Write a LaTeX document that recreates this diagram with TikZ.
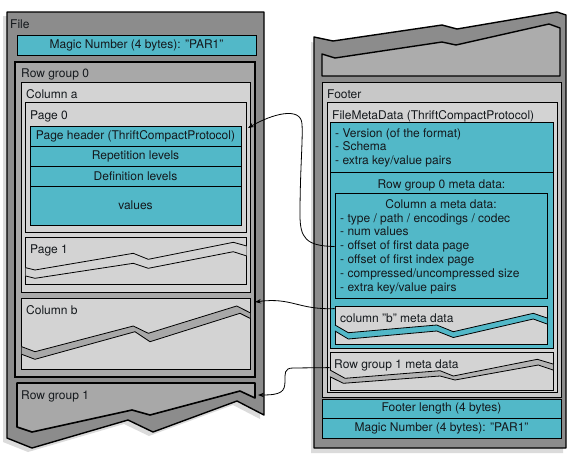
\documentclass[tikz,border=0pt]{standalone}
\usepackage{fontspec}
\setmainfont{TeX Gyre Heros}
\usepackage{tikz}
\usetikzlibrary{arrows.meta, calc}
\definecolor{tealfill}{RGB}{82,184,200}
\definecolor{filegray}{RGB}{140,140,140}
\definecolor{rowgray}{RGB}{168,168,168}
\definecolor{topgray}{RGB}{172,172,172}
\definecolor{lightgray}{RGB}{211,211,211}
\definecolor{footgray}{RGB}{200,200,200}
\definecolor{inkcol}{RGB}{20,24,28}

\begin{document}
\begin{tikzpicture}[
  x=1pt, y=-1pt,
  font=\fontsize{12pt}{14pt}\selectfont, text=inkcol,
  box/.style={draw, line width=0.8pt, inner sep=0pt, fill=lightgray},
  tealbox/.style={box, fill=tealfill},
  groupbox/.style={draw, line width=1.6pt, inner sep=0pt, fill=rowgray},
  outline/.style={draw, line width=1.4pt, line join=round},
  shade/.style={fill=black!14},
  lbl/.style={anchor=base west, inner sep=0pt},
  midlbl/.style={anchor=base, inner sep=0pt},
  tear/.style={line width=0.8pt, line join=round},
  link/.style={-{Stealth[length=6pt, width=4.5pt]}, line width=0.8pt}
]
\useasboundingbox (0,0) rectangle (582,456);

% ---------- Left file ----------
\fill[shade, shift={(-4,4)}] (7,12) -- (264,12) -- (264,415) -- (237,401) -- (153,432) -- (128,420) -- (32,448) -- (7,438) -- cycle;
\draw[outline, fill=filegray] (7,12) -- (264,12) -- (264,415) -- (237,401) -- (153,432) -- (128,420) -- (32,448) -- (7,438) -- cycle;
\node[lbl] (fileL) at (10,28) {File};

\node[tealbox, minimum width=239pt, minimum height=20pt] (magicL) at (136.5,45) {Magic Number (4 bytes): "PAR1"};

% Row group 0
\node[groupbox, minimum width=240pt, minimum height=315pt] (rg0) at (135,219.5) {};
\node[lbl] (rg0lbl) at (21,77) {Row group 0};

% Column a
\node[box, minimum width=229pt, minimum height=210pt] (cola) at (135.5,187) {};
\node[lbl] (colalbl) at (26,98) {Column a};

% Page 0
\node[box, minimum width=221pt, minimum height=130pt] (page0) at (135.5,167) {};
\node[lbl] (page0lbl) at (30,119) {Page 0};
\node[tealbox, minimum width=211pt, minimum height=20pt] (pghead) at (135.5,136) {Page header (ThriftCompactProtocol)};
\node[tealbox, minimum width=211pt, minimum height=20pt] (replev) at (135.5,156) {Repetition levels};
\node[tealbox, minimum width=211pt, minimum height=20pt] (deflev) at (135.5,176) {Definition levels};
\node[tealbox, minimum width=211pt, minimum height=39pt] (values) at (135.5,205.5) {values};

% Page 1 (torn)
\node[box, minimum width=221pt, minimum height=47pt] (page1) at (135.5,260.5) {};
\node[lbl] (page1lbl) at (30,253) {Page 1};
\fill[lightgray] (25.7,267.7) -- (35,270) -- (133.3,253.3) -- (148.3,259.3) -- (233.3,242.3) -- (246.7,246)
  -- (246.7,256) -- (233.3,251.7) -- (148.3,268.3) -- (133.3,263.3) -- (35,278.3) -- (25.7,276) -- cycle;
\draw[tear] (25.7,267.7) -- (35,270) -- (133.3,253.3) -- (148.3,259.3) -- (233.3,242.3) -- (246.7,246);
\draw[tear] (25.7,276) -- (35,278.3) -- (133.3,263.3) -- (148.3,268.3) -- (233.3,251.7) -- (246.7,256);

% Column b (torn)
\node[box, minimum width=229pt, minimum height=71pt] (colb) at (135.5,333.5) {};
\node[lbl] (colblbl) at (26,314) {Column b};
\fill[rowgray] (21.7,346.7) -- (35,351.7) -- (133.3,326) -- (148.3,333.3) -- (236.7,306) -- (250,312.7)
  -- (250,318.3) -- (240,313.3) -- (150,341.7) -- (135,331.7) -- (35,359.3) -- (21.7,354.3) -- cycle;
\draw[tear] (21.7,346.7) -- (35,351.7) -- (133.3,326) -- (148.3,333.3) -- (236.7,306) -- (250,312.7);
\draw[tear] (21.7,354.3) -- (35,359.3) -- (135,331.7) -- (150,341.7) -- (240,313.3) -- (250,318.3);

% Row group 1 (torn)
\draw[line width=1.6pt, line join=round, fill=rowgray] (17,383) -- (255,383) -- (255,398) -- (240,391) -- (150,415) -- (132,410) -- (32,432) -- (17,427) -- cycle;
\node[lbl] (rg1lbl) at (21,399) {Row group 1};

% ---------- Right file ----------
\fill[shade, shift={(-3,5)}] (314,37) -- (333,41) -- (442,25) -- (457,29) -- (557,12) -- (566,15) -- (566,448) -- (314,448) -- cycle;
\draw[outline, fill=filegray] (314,37) -- (333,41) -- (442,25) -- (457,29) -- (557,12) -- (566,15) -- (566,448) -- (314,448) -- cycle;
\draw[line width=1.4pt, line join=round, fill=topgray] (322,54) -- (335,58) -- (442,42) -- (456,45) -- (549,24) -- (560,28) -- (560,76) -- (322,76) -- cycle;

% Footer
\node[box, fill=footgray, minimum width=239pt, minimum height=315pt] (footer) at (441.5,239.5) {};
\node[lbl] (footerlbl) at (327,98) {Footer};
\node[box, minimum width=230pt, minimum height=290pt] (fmd) at (442,247) {};
\node[lbl] (fmdlbl) at (332,119) {FileMetaData (ThriftCompactProtocol)};

\node[tealbox, minimum width=223pt, minimum height=50pt] (fmdtop) at (441.5,147) {};
\node[lbl] (version) at (335,137) {- Version (of the format)};
\node[lbl] (schema) at (335,150.7) {- Schema};
\node[lbl] (extra) at (335,164.5) {- extra key/value pairs};

% Row group 0 meta data
\node[tealbox, minimum width=223pt, minimum height=176pt] (rg0meta) at (441.5,260) {};
\node[midlbl] (rg0metalbl) at (441.5,188) {Row group 0 meta data:};
\node[tealbox, minimum width=212pt, minimum height=105pt] (colameta) at (441,245.5) {};
\node[midlbl] (colametalbl) at (441,208) {Column a meta data:};
\node[lbl] (itype) at (340,222) {- type / path / encodings / codec};
\node[lbl] (inum) at (340,235.8) {- num values};
\node[lbl] (idata) at (340,249.6) {- offset of first data page};
\node[lbl] (iindex) at (340,263.4) {- offset of first index page};
\node[lbl] (isize) at (340,277.2) {- compressed/uncompressed size};
\node[lbl] (iextra) at (340,291) {- extra key/value pairs};

% column "b" meta data (torn)
\node[box, minimum width=212pt, minimum height=38pt] (colbmeta) at (441,325) {};
\node[lbl] (colbmetalbl) at (340,322) {column "b" meta data};
\fill[tealfill] (335,325) -- (348.3,332.7) -- (436.7,325) -- (453.3,331.7) -- (533.3,313.3) -- (547,318)
  -- (547,324) -- (533.3,319) -- (453.3,337.5) -- (436.7,331) -- (348.3,339) -- (335,331) -- cycle;
\draw[tear] (335,325) -- (348.3,332.7) -- (436.7,325) -- (453.3,331.7) -- (533.3,313.3) -- (547,318);
\draw[tear] (335,331) -- (348.3,339) -- (436.7,331) -- (453.3,337.5) -- (533.3,319) -- (547,324);

% Row group 1 meta data (torn)
\node[box, minimum width=223pt, minimum height=38pt] (rg1meta) at (441.5,371) {};
\node[lbl] (rg1metalbl) at (334,368) {Row group 1 meta data};
\fill[lightgray!85!black] (330,370) -- (345,378.3) -- (440,370.7) -- (453.3,376) -- (537.3,359.3) -- (553,364)
  -- (553,370) -- (538.3,365) -- (455,380) -- (440,376) -- (343.3,383.3) -- (330,376.7) -- cycle;
\draw[tear] (330,370) -- (345,378.3) -- (440,370.7) -- (453.3,376) -- (537.3,359.3) -- (553,364);
\draw[tear] (330,376.7) -- (343.3,383.3) -- (440,376) -- (455,380) -- (538.3,365) -- (553,370);

\node[tealbox, minimum width=239pt, minimum height=19pt] (footlen) at (441.5,408.5) {Footer length (4 bytes)};
\node[tealbox, minimum width=239pt, minimum height=20pt] (magicR) at (441.5,428) {Magic Number (4 bytes): "PAR1"};

% ---------- Links ----------
\coordinate (page0in) at (248,128);
\coordinate (colbin) at (255,302);
\coordinate (rg1in) at (258,395);

\draw[link] (colameta.west |- idata) .. controls (306,246) and (300,238) .. (300,215)
  .. controls (300,170) and (303,140) .. (302,124)
  .. controls (301,106) and (272,114) .. (page0in);
\draw[link] ($(colbmeta.north west)+(0,3)$) .. controls (298,310) and (292,297) .. (colbin);
\draw[link] ($(rg1meta.north west)+(0,16)$) -- (293,368) .. controls (284,368) and (285,374) .. (285,381)
  .. controls (285,392) and (281,395) .. (rg1in);

\end{tikzpicture}
\end{document}
